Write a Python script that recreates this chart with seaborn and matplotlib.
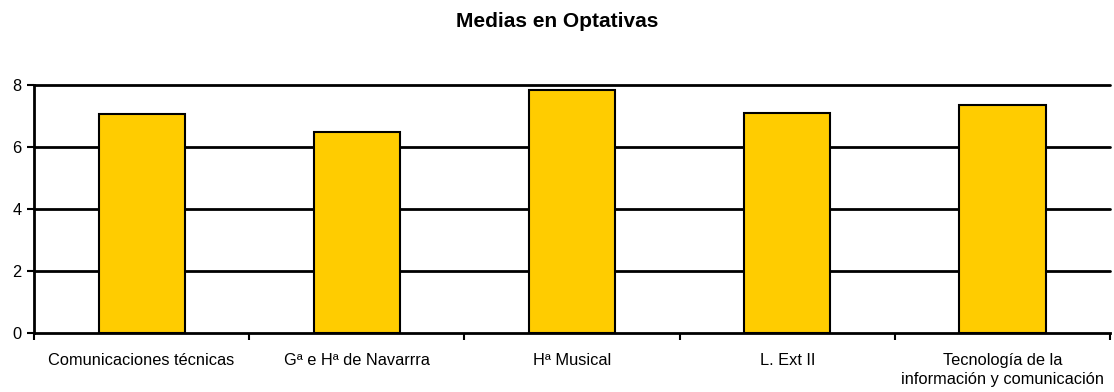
import seaborn as sns
import matplotlib.pyplot as plt
import numpy as np

categorias = ['Comunicaciones técnicas', 'Gª e Hª de Navarrra', 'Hª Musical',
              'L. Ext II', 'Tecnología de la\ninformación y comunicación']
medias = [7.06, 6.50, 7.84, 7.09, 7.35]
ticks_y = [0, 2, 4, 6, 8]

sns.set_style("white")
plt.rcParams['font.family'] = ['Liberation Sans', 'DejaVu Sans']
plt.rcParams['text.color'] = 'black'
plt.rcParams['xtick.color'] = 'black'
plt.rcParams['ytick.color'] = 'black'

fig = plt.figure(figsize=(11.14, 3.92), dpi=100)
ax = fig.add_axes([0.0305, 0.1497, 0.966, 0.6333])

# lineas de la rejilla detras de las barras
for v in ticks_y[1:]:
    ax.axhline(v, color='black', linewidth=2, zorder=0, clip_on=False)

sns.barplot(x=categorias, y=medias, color='#FFCC00', saturation=1, width=0.4,
            edgecolor='black', linewidth=1.5, ax=ax, zorder=2)

ax.set_ylim(0, 8)
ax.set_xlim(-0.5, len(categorias) - 0.5)
ax.set_yticks(ticks_y)
ax.tick_params(axis='y', left=True, length=5, width=1.5, labelsize=11.8, pad=4)
ax.tick_params(axis='x', which='major', length=0, labelsize=11.8, pad=14)
ax.set_xticks(np.arange(-0.5, len(categorias)), minor=True)
ax.tick_params(axis='x', which='minor', bottom=True, length=5, width=1.5)
for lbl in ax.get_xticklabels():
    lbl.set_linespacing(1.35)
ax.set_xlabel('')
ax.set_ylabel('')

for s in ['top', 'right']:
    ax.spines[s].set_visible(False)
for s in ['left', 'bottom']:
    ax.spines[s].set_color('black')
    ax.spines[s].set_linewidth(2)

fig.text(0.5, 0.944, 'Medias en Optativas', fontsize=15, fontweight='bold',
         ha='center', va='center')

fig.savefig('out.png', dpi=100)
